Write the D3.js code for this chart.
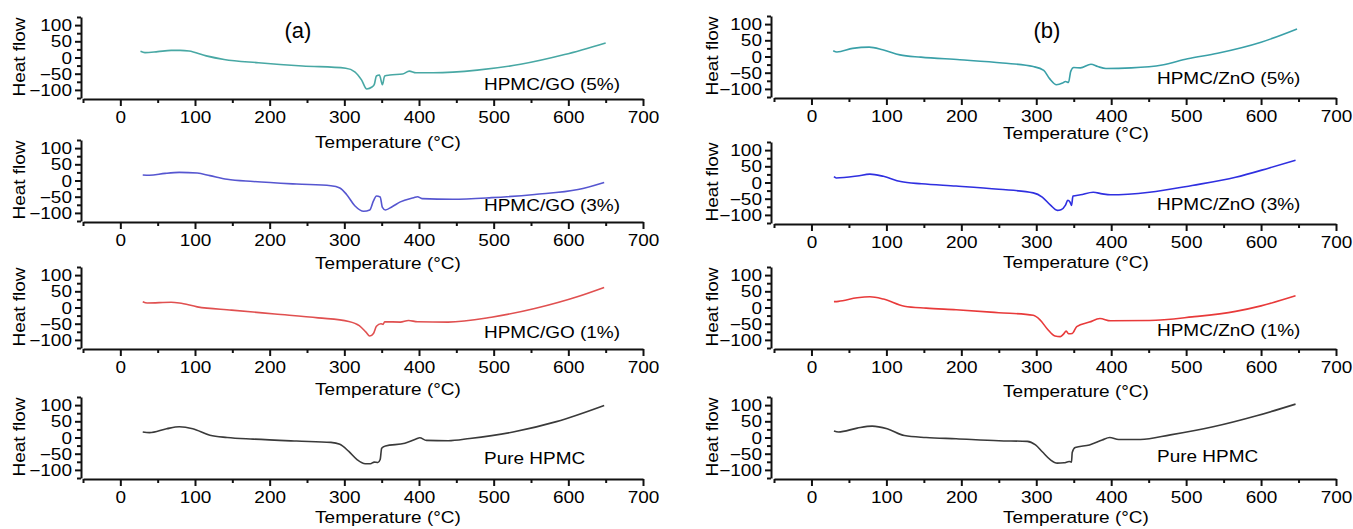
<!DOCTYPE html>
<html>
<head>
<meta charset="utf-8">
<script src="https://cdn.jsdelivr.net/npm/d3@7"></script>
<style>
  body { margin: 0; background: #fff; }
  svg { display: block; font-family: "Liberation Sans", Arial, sans-serif; }
</style>
</head>
<body>
<svg id="chart" width="1353" height="529"></svg>
<script>
// DSC curves, [temperature, heat flow]
var go5 = [[27,19],[33,15],[50,18],[68,22],[80,22],[92,20],[115,5],[139,-6],[185,-16],[244,-26],[302,-33],
  [314,-44],[323,-69],[330,-97],[337,-91],[340,-84],[343,-57],[347,-54],[351,-84],[354,-57],[361,-54],
  [378,-51],[387,-42],[396,-47],[419,-47],[478,-39],[536,-21],[595,9],[650,45]];
var go3 = [[30,17],[39,16],[60,22],[79,25],[103,23],[120,15],[143,4],[178,-3],[236,-11],[282,-16],[294,-23],
  [303,-43],[314,-78],[326,-95],[334,-91],[339,-63],[343,-48],[348,-51],[351,-83],[355,-91],[364,-81],
  [375,-66],[393,-53],[398,-50],[404,-56],[445,-58],[497,-53],[555,-43],[613,-28],[648,-6]];
var go1 = [[30,18],[36,14],[68,16],[79,14],[103,2],[149,-8],[207,-20],[265,-32],[306,-43],[320,-56],
  [329,-76],[334,-88],[339,-80],[343,-58],[349,-50],[352,-52],[354,-44],[375,-45],[386,-40],[398,-44],
  [439,-45],[497,-30],[555,-3],[613,34],[648,62]];
var pureA = [[30,17],[39,15],[62,27],[79,33],[97,27],[120,7],[143,0],[178,-5],[236,-11],[282,-15],[294,-21],
  [306,-43],[317,-68],[328,-81],[335,-81],[340,-76],[345,-77],[348,-68],[350,-33],[355,-26],[381,-18],
  [396,-5],[401,-1],[410,-9],[439,-10],[468,-3],[526,17],[584,49],[648,99]];
var zno5 = [[29,18],[34,14],[55,25],[77,29],[95,21],[118,5],[146,-2],[198,-10],[255,-20],[296,-31],[310,-43],
  [318,-69],[327,-87],[335,-82],[339,-77],[343,-80],[346,-46],[350,-34],[359,-35],[373,-24],[382,-31],
  [393,-37],[427,-35],[468,-26],[502,-7],[542,10],[600,44],[648,85]];
var zno3 = [[30,18],[33,14],[61,20],[78,26],[96,19],[119,3],[147,-4],[193,-11],[250,-21],[296,-32],[308,-45],
  [319,-70],[328,-86],[333,-84],[339,-70],[342,-55],[345,-60],[347,-71],[349,-42],[359,-38],[376,-30],
  [388,-35],[399,-38],[451,-30],[508,-9],[566,16],[611,45],[646,69]];
var zno1 = [[30,18],[36,19],[61,30],[78,33],[96,26],[124,4],[153,-2],[193,-7],[250,-16],[296,-24],[305,-38],
  [315,-67],[325,-88],[332,-90],[336,-83],[340,-73],[343,-81],[348,-80],[354,-59],[371,-45],[385,-34],
  [399,-41],[451,-40],[508,-29],[566,-12],[600,5],[646,36]];
var pureB = [[30,20],[36,17],[61,29],[81,35],[101,27],[124,6],[153,0],[193,-4],[250,-10],[288,-12],[299,-23],
  [308,-44],[319,-69],[328,-79],[337,-78],[344,-74],[347,-76],[348,-46],[352,-31],[371,-23],[388,-8],
  [398,0],[410,-6],[439,-6],[479,8],[536,33],[594,67],[646,103]];

var seriesData = [go5, go3, go1, pureA, zno5, zno3, zno1, pureB];
var seriesNames = ["HPMC/GO (5%)", "HPMC/GO (3%)", "HPMC/GO (1%)", "Pure HPMC",
                   "HPMC/ZnO (5%)", "HPMC/ZnO (3%)", "HPMC/ZnO (1%)", "Pure HPMC"];
var seriesColors = ["#48a8a4", "#5656d0", "#e05050", "#3a3a3a",
                    "#3aa0a8", "#2f2fe0", "#e83a3a", "#3a3a3a"];
var panelTags = ["(a)", "(b)"];

var xTicks = [0, 100, 200, 300, 400, 500, 600, 700];
var xMinor = [-50, 50, 150, 250, 350, 450, 550, 650];
var yTicks = [-100, -50, 0, 50, 100];
var yMinor = [-125, -75, -25, 25, 75, 125];
var xTitle = "Temperature (\u00b0C)";
var yTitle = "Heat flow";

// layout per column / row
var cols = [
  {x0: 83, x1: 643, yAxisX: 81, hfX: 19, labelX: 484, titleX: 388, tagX: 298,
   axisY: [99, 222, 349, 479], titleY: [142, 263, 389, 517], labelY: [84, 205, 332, 458]},
  {x0: 774, x1: 1336, yAxisX: 771, hfX: 712, labelX: 1157, titleX: 1076, tagX: 1047,
   axisY: [98, 224, 349, 479], titleY: [133, 262, 391, 517], labelY: [78, 204, 330, 456]}
];
var fontSize = 19;
var squash = "scale(1,0.84)";

const svg = d3.select("#chart");

function text_at(g, x, y, str, anchor) {
    return g.append("text")
        .attr("transform", "translate(" + x + "," + y + ") " + squash)
        .attr("text-anchor", anchor || "start")
        .attr("font-size", fontSize)
        .attr("fill", "#000")
        .text(str);
}

seriesData.forEach((data, i) => {
    let c = cols[Math.floor(i / 4)];
    let row = i % 4;
    let ay = c.axisY[row];
    let g = svg.append("g");

    let x = d3.scaleLinear().domain([-50, 700]).range([c.x0, c.x1]);
    let y = d3.scaleLinear().domain([-125, 125]).range([ay - 1, ay - 82]);

    // x axis
    let xa = g.append("g").attr("transform", "translate(0," + ay + ")")
        .call(d3.axisBottom(x).tickValues(xTicks).tickSize(7).tickSizeOuter(0).tickFormat(d3.format("d")));
    xa.selectAll("text")
        .attr("y", null).attr("dy", null)
        .attr("transform", "translate(0,24) " + squash)
        .attr("font-size", fontSize).attr("font-family", null).attr("fill", "#000");
    g.append("g").attr("transform", "translate(0," + ay + ")")
        .call(d3.axisBottom(x).tickValues(xMinor).tickSize(4).tickFormat(""))
        .select(".domain").remove();

    // y axis
    let ya = g.append("g").attr("transform", "translate(" + c.yAxisX + ",0)")
        .call(d3.axisLeft(y).tickValues(yTicks).tickSize(6).tickSizeOuter(0));
    ya.selectAll("text")
        .attr("x", null).attr("dy", null)
        .attr("transform", "translate(-9,5.5) " + squash)
        .attr("font-size", fontSize).attr("font-family", null).attr("fill", "#000");
    g.append("g").attr("transform", "translate(" + c.yAxisX + ",0)")
        .call(d3.axisLeft(y).tickValues(yMinor).tickSize(4).tickFormat(""))
        .select(".domain").remove();

    g.selectAll(".domain, .tick line").attr("stroke", "#111").attr("stroke-width", 2);

    // curve
    let line = d3.line()
        .x(d => x(d[0]))
        .y(d => y(d[1]))
        .curve(d3.curveMonotoneX);
    g.append("path")
        .datum(data)
        .attr("d", line)
        .attr("fill", "none")
        .attr("stroke", seriesColors[i])
        .attr("stroke-width", 1.6);

    // texts
    text_at(g, c.labelX, c.labelY[row] + 6, seriesNames[i]);
    text_at(g, c.titleX, c.titleY[row] + 6, xTitle, "middle");
    g.append("text")
        .attr("transform", "translate(" + (c.hfX + 6) + "," + (ay - 42) + ") rotate(-90) scale(1,0.9)")
        .attr("text-anchor", "middle")
        .attr("font-size", fontSize)
        .attr("fill", "#000")
        .text(yTitle);
    if (row == 0)
        g.append("text")
            .attr("x", c.tagX).attr("y", 38)
            .attr("text-anchor", "middle")
            .attr("font-size", 22)
            .attr("fill", "#000")
            .text(panelTags[Math.floor(i / 4)]);
});
</script>
</body>
</html>
